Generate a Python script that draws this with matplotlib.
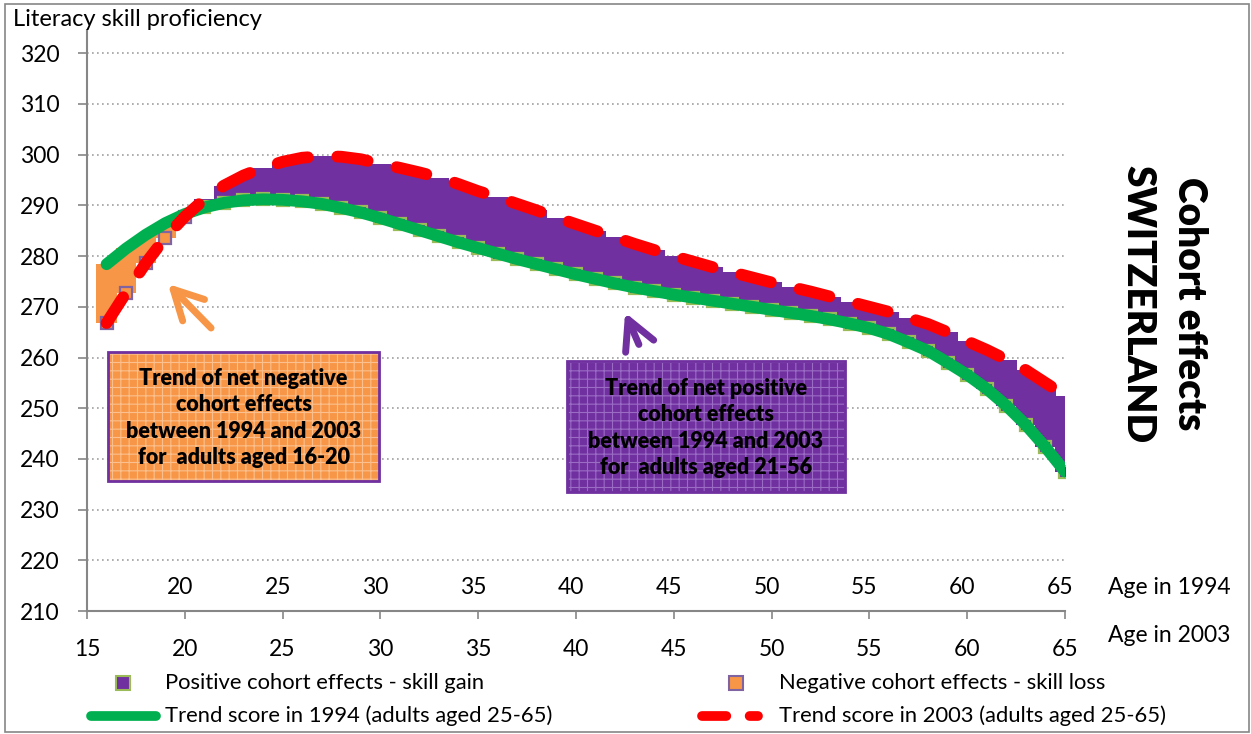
import matplotlib
matplotlib.use("Agg")
import matplotlib.pyplot as plt
from matplotlib.patches import Rectangle, FancyArrowPatch
from matplotlib.lines import Line2D

plt.rcParams['font.family'] = ['Lato', 'DejaVu Sans']

# ---------------- data ----------------
ages = list(range(16, 66))
score_1994 = [278.4, 281.5, 284.2, 286.5, 288.3, 289.6, 290.5, 291.0, 291.2, 291.1,
              290.8, 290.3, 289.5, 288.6, 287.5, 286.3, 285.1, 283.9, 282.7, 281.6,
              280.5, 279.4, 278.4, 277.4, 276.4, 275.5, 274.6, 273.8, 273.1, 272.4,
              271.8, 271.2, 270.6, 270.0, 269.4, 268.8, 268.2, 267.5, 266.7, 265.8,
              264.6, 263.0, 261.3, 259.0, 256.6, 253.8, 250.5, 246.7, 242.3, 237.5]
score_2003 = [266.8, 272.8, 278.6, 283.6, 287.8, 291.2, 293.9, 295.9, 297.4, 298.6,
              299.4, 299.7, 299.6, 299.1, 298.2, 297.4, 296.5, 295.5, 294.2, 292.8,
              291.6, 290.3, 289.0, 287.6, 286.3, 285.0, 283.7, 282.4, 281.2, 280.0,
              278.9, 277.8, 276.8, 275.8, 274.8, 273.9, 273.0, 272.0, 271.0, 270.0,
              269.0, 267.8, 266.6, 265.0, 263.2, 261.5, 259.6, 257.5, 255.0, 252.5]
x_ticks = [15, 20, 25, 30, 35, 40, 45, 50, 55, 60, 65]
x_ticks_1994 = [20, 25, 30, 35, 40, 45, 50, 55, 60, 65]
y_ticks = [210, 220, 230, 240, 250, 260, 270, 280, 290, 300, 310, 320]

PURPLE = '#7030A0'
ORANGE = '#F79646'
GREEN = '#00B050'
RED = '#FF0000'
GREY = '#868686'

W, H = 1251, 734
fig = plt.figure(figsize=(W / 100, H / 100), dpi=100)

def fx(x):
    return x / W

def fy(y):
    return 1 - y / H

ax = fig.add_axes([fx(87), fy(611), fx(1065) - fx(87), fy(30) - fy(611)])
ax.set_xlim(15, 65)
ax.set_ylim(210, 210 + 581 / 5.07)

# bars
pos_x, pos_b, pos_h, neg_x, neg_b, neg_h = [], [], [], [], [], []
for a, s94, s03 in zip(ages, score_1994, score_2003):
    if s03 >= s94:
        pos_x.append(a); pos_b.append(s94); pos_h.append(s03 - s94)
    else:
        neg_x.append(a); neg_b.append(s03); neg_h.append(s94 - s03)
ax.bar(pos_x, pos_h, bottom=pos_b, width=1.05, color=PURPLE, linewidth=0, zorder=2)
ax.bar(neg_x, neg_h, bottom=neg_b, width=1.05, color=ORANGE, linewidth=0, zorder=2)
ax.plot(pos_x, pos_b, linestyle='none', marker='s', markersize=9,
        markerfacecolor=PURPLE, markeredgecolor='#9BBB59', markeredgewidth=1.6, zorder=3)
ax.plot(neg_x, neg_b, linestyle='none', marker='s', markersize=9,
        markerfacecolor=ORANGE, markeredgecolor='#8064A2', markeredgewidth=1.6, zorder=3)

# trend lines
ax.plot(ages, score_1994, color=GREEN, linewidth=8.5, solid_capstyle='round', zorder=4)
ax.plot(ages, score_2003, color=RED, linewidth=8.5, dashes=(2.6, 2.5),
        dash_capstyle='round', zorder=5)

# axes styling
for s in ['top', 'right']:
    ax.spines[s].set_visible(False)
for s in ['left', 'bottom']:
    ax.spines[s].set_color(GREY)
    ax.spines[s].set_linewidth(1.5)
ax.set_yticks(y_ticks)
ax.set_xticks(x_ticks)
ax.tick_params(axis='y', direction='out', length=6.5, width=1.2, color=GREY,
               pad=13, labelsize=16.5)
ax.tick_params(axis='x', direction='out', length=6, width=1.2, color=GREY,
               pad=14, labelsize=16.5)
ax.grid(axis='y', color='#A0A0A0', linestyle=(0, (1, 2)), linewidth=1.2, zorder=0)
ax.set_axisbelow(True)

# second (1994) age labels inside plot
for t in x_ticks_1994:
    ax.text(t - 0.25, (611 - 588) / 581, str(t), transform=ax.get_xaxis_transform(),
            ha='center', va='center', fontsize=16.5)

fig.text(fx(1108), fy(588), 'Age in 1994', ha='left', va='center', fontsize=16.5)
fig.text(fx(1108), fy(635), 'Age in 2003', ha='left', va='center', fontsize=16.5)
fig.text(fx(13), fy(20), 'Literacy skill proficiency', ha='left', va='center', fontsize=17)

# right vertical titles
fig.text(fx(1190), fy(304), 'Cohort effects', rotation=270, ha='center', va='center',
         fontsize=28, fontweight='heavy')
fig.text(fx(1138), fy(304), 'SWITZERLAND', rotation=270, ha='center', va='center',
         fontsize=28, fontweight='heavy')

# annotation boxes
def box(x0, y0, x1, y1, face, hatchcol, text):
    r = Rectangle((fx(x0), fy(y1)), fx(x1) - fx(x0), fy(y0) - fy(y1), transform=fig.transFigure,
                  facecolor=face, edgecolor=hatchcol, hatch='++', linewidth=0, zorder=6)
    fig.add_artist(r)
    r2 = Rectangle((fx(x0), fy(y1)), fx(x1) - fx(x0), fy(y0) - fy(y1), transform=fig.transFigure,
                   facecolor='none', edgecolor=PURPLE, linewidth=2, zorder=7)
    fig.add_artist(r2)
    fig.text((fx(x0) + fx(x1)) / 2, (fy(y0) + fy(y1)) / 2 - 0.002, text, ha='center', va='center',
             fontsize=15.5, fontweight='heavy', linespacing=1.3, zorder=8)

plt.rcParams['hatch.linewidth'] = 0.8
box(108, 352, 379, 481, ORANGE, '#FAC08F',
    'Trend of net negative\ncohort effects\nbetween 1994 and 2003\nfor  adults aged 16-20')
box(567, 361, 845, 492, PURPLE, '#9B6CC4',
    'Trend of net positive\ncohort effects\nbetween 1994 and 2003\nfor  adults aged 21-56')

# arrows
def arrow(x0, y0, x1, y1, col):
    a = FancyArrowPatch((fx(x0), fy(y0)), (fx(x1), fy(y1)), transform=fig.transFigure,
                        arrowstyle='->,head_length=21,head_width=11', mutation_scale=1,
                        color=col, linewidth=5, capstyle='round', joinstyle='round', zorder=9)
    fig.add_artist(a)

arrow(213, 330, 166, 282, ORANGE)
arrow(640, 347, 624, 310, PURPLE)

# legend (manual)
fig.add_artist(Line2D([fx(123)], [fy(683)], marker='s', markersize=10, markerfacecolor=PURPLE,
                      markeredgecolor='#9BBB59', markeredgewidth=1.5, linestyle='none',
                      transform=fig.transFigure))
fig.text(fx(165), fy(683), 'Positive cohort effects - skill gain', ha='left', va='center',
         fontsize=15.8)
fig.add_artist(Line2D([fx(736)], [fy(683)], marker='s', markersize=10, markerfacecolor=ORANGE,
                      markeredgecolor='#8064A2', markeredgewidth=1.5, linestyle='none',
                      transform=fig.transFigure))
fig.text(fx(779), fy(683), 'Negative cohort effects - skill loss', ha='left', va='center',
         fontsize=15.8)
fig.add_artist(Line2D([fx(91), fx(156)], [fy(716), fy(716)], color=GREEN, linewidth=7,
                      solid_capstyle='round', transform=fig.transFigure))
fig.text(fx(165), fy(716), 'Trend score in 1994 (adults aged 25-65)', ha='left', va='center',
         fontsize=15.8)
fig.add_artist(Line2D([fx(702), fx(758)], [fy(716), fy(716)], color=RED, linewidth=7,
                      dashes=(2.5, 2.4), dash_capstyle='round', transform=fig.transFigure))
fig.text(fx(779), fy(716), 'Trend score in 2003 (adults aged 25-65)', ha='left', va='center',
         fontsize=15.8)

# outer frame
fig.add_artist(Rectangle((fx(5), fy(732)), fx(1249) - fx(5), fy(4) - fy(732),
                         transform=fig.transFigure, facecolor='none', edgecolor=GREY,
                         linewidth=1.2))

fig.savefig('out.png', dpi=100)
